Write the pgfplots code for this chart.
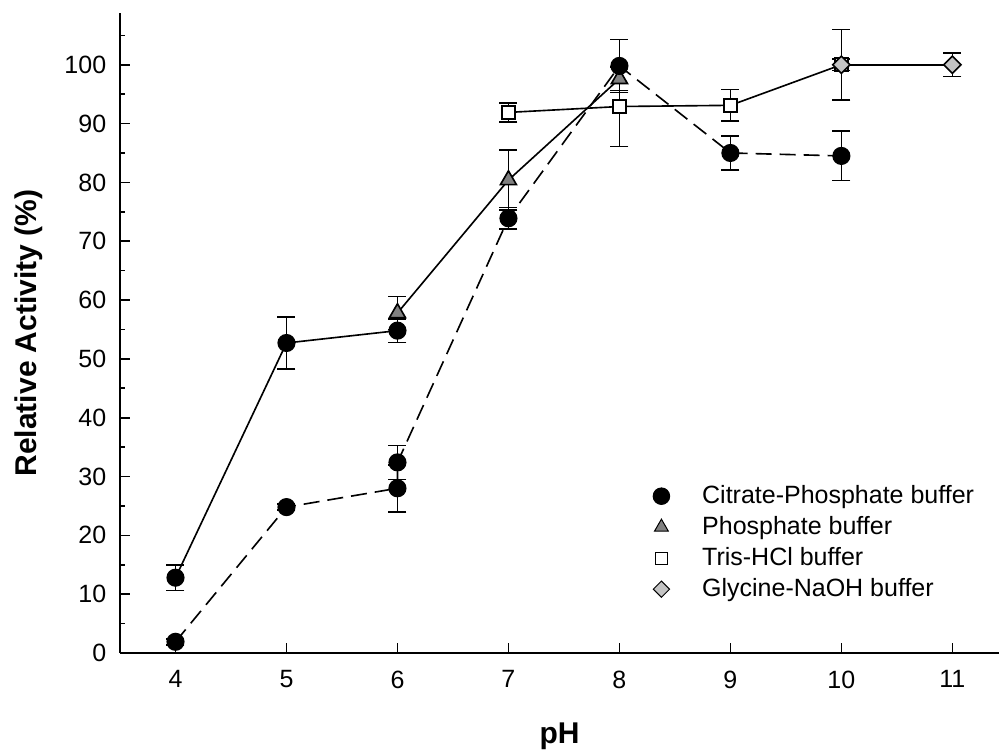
\documentclass[border=0pt]{standalone}
\usepackage{fontspec}
\setmainfont{Liberation Sans}
\usepackage{pgfplots}
\pgfplotsset{compat=1.18}

\definecolor{trigray}{RGB}{128,128,128}
\definecolor{diagray}{RGB}{196,196,196}

\pgfplotsset{
  ebar/.style={error bars/.cd, y dir=both, y explicit,
    error bar style={black, line width=0.65pt, solid},
    error mark options={rotate=90, mark size=3.6pt, line width=0.65pt, black, solid}},
}

\begin{document}
\begin{tikzpicture}
\begin{axis}[
  scale only axis, width=351.6pt, height=256pt,
  xmin=3.5, xmax=11.42, ymin=0, ymax=108.8,
  axis lines*=left,
  axis line style={line width=0.65pt},
  xtick={4,...,11}, ytick={0,10,...,100},
  minor ytick={5,15,...,105},
  tick align=inside, major tick length=4pt, minor tick length=2pt,
  tick style={black, line width=0.65pt},
  ticklabel style={font=\fontsize{10}{12}\selectfont},
  /pgf/number format/assume math mode=true,
  yticklabel style={xshift=-2pt},
  xticklabel style={yshift=-3.5pt},
  xlabel={\bfseries pH}, ylabel={\bfseries Relative Activity (\%)},
  xlabel style={font=\fontsize{12}{14}\selectfont, at={(axis description cs:0.5,-0.1305)}, anchor=center},
  ylabel style={font=\fontsize{12}{14}\selectfont, at={(axis description cs:-0.1035,0.5)}, anchor=center},
  legend style={at={(rel axis cs:0.606,0.27)}, anchor=north west, draw=none, fill=none,
    inner sep=0pt, font=\fontsize{10}{12}\selectfont,
    nodes={inner sep=1pt, text height=8pt, text depth=2.4pt},
    /tikz/every odd column/.append style={column sep=12pt}},
  legend cell align=left,
  clip=false,
]
\addlegendimage{only marks, mark=*, mark size=3.3pt, black}
\addlegendentry{Citrate-Phosphate buffer}
\addlegendimage{only marks, mark=triangle*, mark size=3.2pt, mark options={fill=trigray, draw=black}}
\addlegendentry{Phosphate buffer}
\addlegendimage{only marks, mark=square*, mark size=2.4pt, mark options={fill=white, draw=black}}
\addlegendentry{Tris-HCl buffer}
\addlegendimage{only marks, mark=square*, mark size=2.3pt, mark options={fill=diagray, draw=black, rotate=45}}
\addlegendentry{Glycine-NaOH buffer}

% Phosphate buffer
\addplot[forget plot, black, line width=0.65pt, mark=triangle*, mark size=3.7pt,
  mark options={fill=trigray, draw=black, solid}, ebar]
  coordinates {(6,57.8) +- (0,2.8) (7,80.4) +- (0,5.1) (8,97.6) +- (0,2.0)};

% Tris-HCl buffer
\addplot[forget plot, black, line width=0.65pt, mark=square*, mark size=2.6pt,
  mark options={fill=white, draw=black, solid}, ebar]
  coordinates {(7,91.9) +- (0,1.6) (8,92.9) +- (0,6.8) (9,93.1) +- (0,2.7) (10,100) +- (0,1.0)};

% Citrate-Phosphate buffer (solid)
\addplot[forget plot, black, line width=0.65pt, mark=*, mark size=3.3pt,
  mark options={solid}, ebar]
  coordinates {(4,12.8) +- (0,2.2) (5,52.7) +- (0,4.4) (6,54.8) +- (0,2.0)};

% Citrate-Phosphate buffer (dashed)
\addplot[forget plot, black, line width=0.65pt, dash pattern=on 6.4pt off 3.2pt,
  mark=*, mark size=3.3pt, mark options={solid}, ebar]
  coordinates {(4,1.9) +- (0,0.5) (5,24.8) +- (0,0.5) (6,28.0) +- (0,4.0)
    (6,32.4) +- (0,2.9) (7,73.9) +- (0,1.8) (8,99.8) +- (0,4.5)
    (9,85.0) +- (0,2.9) (10,84.5) +- (0,4.2)};

% Glycine-NaOH buffer
\addplot[forget plot, black, line width=0.65pt, mark=square*, mark size=2.45pt,
  mark options={fill=diagray, draw=black, rotate=45, solid}, ebar]
  coordinates {(10,100) +- (0,6.0) (11,100) +- (0,2.0)};

\coordinate (bl) at (rel axis cs:0,0);
\coordinate (tr) at (rel axis cs:1,1);
\end{axis}
\pgfresetboundingbox
\path (bl) ++(-48pt,-40pt) coordinate (a);
\path (tr) ++(0pt,5.2pt) coordinate (b);
\useasboundingbox (a) rectangle (b);
\end{tikzpicture}
\end{document}
